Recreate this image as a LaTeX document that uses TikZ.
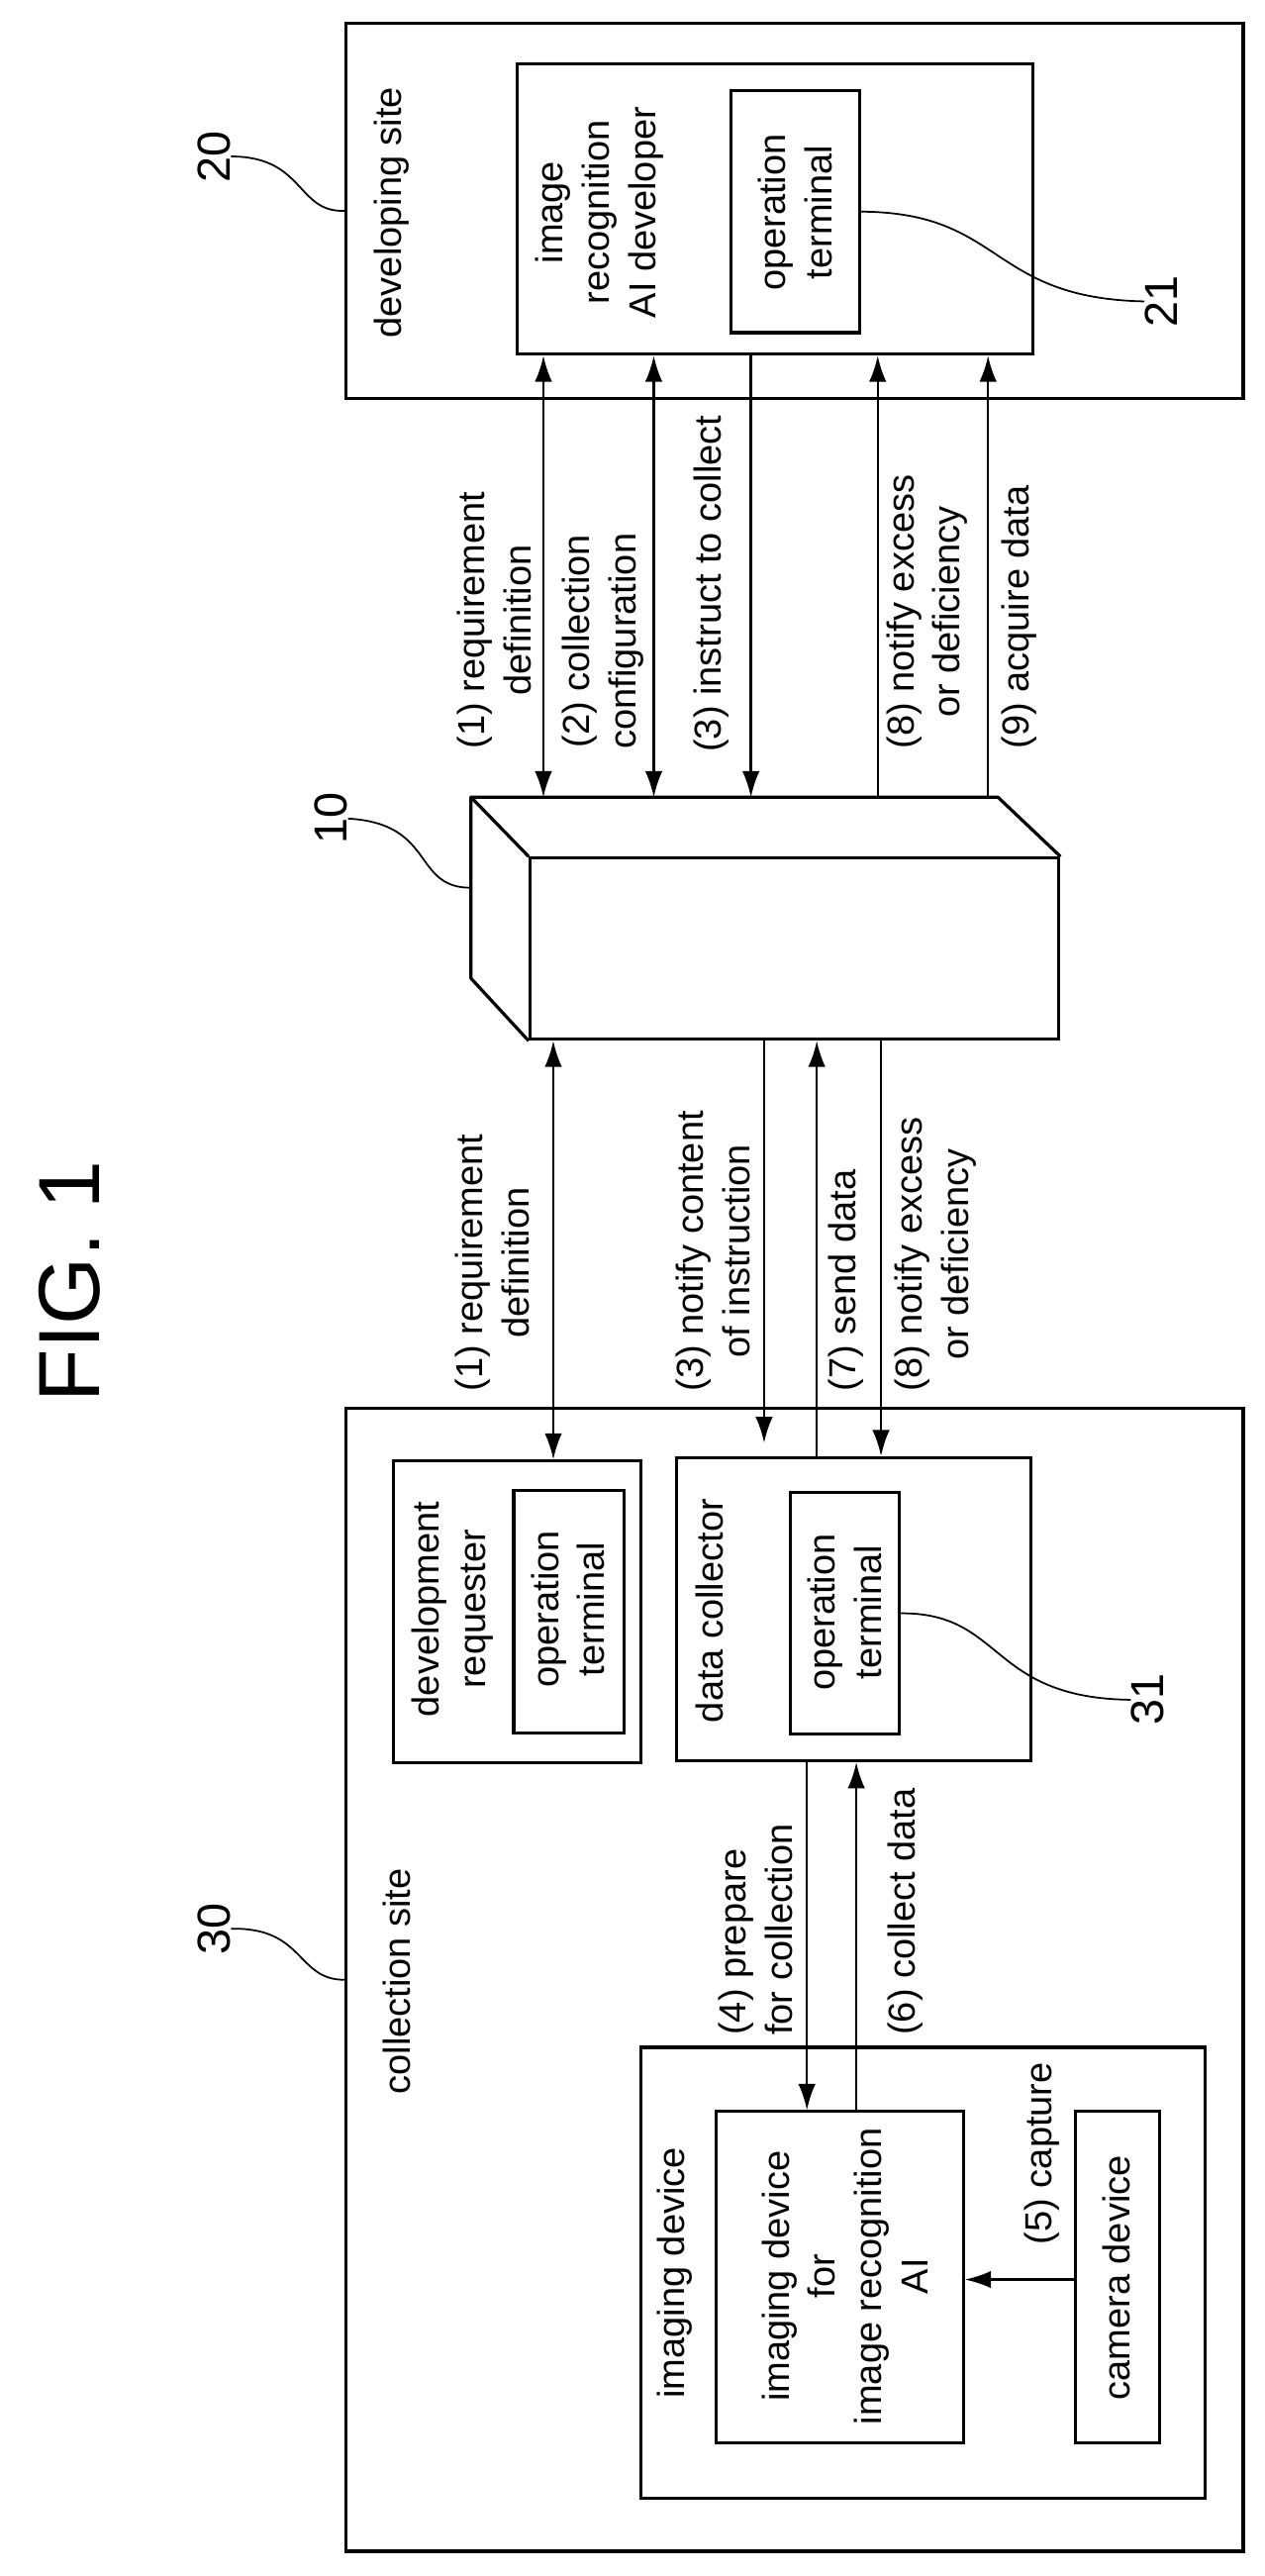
\documentclass[tikz,border=0pt]{standalone}
\usepackage{fontspec}
\setmainfont{Liberation Sans}
\usetikzlibrary{arrows.meta,fit}
\tikzset{
  box/.style={draw,line width=1.1pt,inner sep=0pt},
  txt/.style={rotate=90,font=\fontsize{13}{16}\selectfont,align=center,inner sep=0pt},
  lead/.style={line width=0.6pt},
  one/.style={line width=0.8pt,-{Latex[length=9pt,width=6pt]}},
  two/.style={line width=0.8pt,{Latex[length=9pt,width=6pt]}-{Latex[length=9pt,width=6pt]}}
}
\begin{document}
\begin{tikzpicture}[x=0.02cm,y=-0.02cm]
  \useasboundingbox (0,0) rectangle (768,1564);
  % developing site
  \node[box,fit={(210,14) (755,242)}] (devsite) {};
  \node[box,fit={(314,39) (627,215)}] (dev) {};
  \node[box,fit={(444,55) (522,202)}] (term21) {};
  \node[txt,anchor=center] (tdevsite) at (238,129) {developing site};
  \node[txt] (tdev) at (364,129) {image\\recognition\\AI developer};
  \node[txt] (tterm21) at (483,129) {operation\\terminal};
  % server
  \node[box,fit={(322,521) (643,631)}] (srv) {};
  \coordinate (srvbl) at (286,484);
  \coordinate (srvbr) at (606,484);
  \coordinate (srvlb) at (286,594);
  \draw[line width=1.1pt,line join=round] (srv.north west) -- (srvbl) -- (srvbr) -- (srv.north east);
  \draw[line width=1.1pt,line join=round] (srvbl) -- (srvlb) -- (srv.south west);
  % collection site
  \node[box,fit={(210,855) (755,1549)}] (colsite) {};
  \node[box,fit={(239,887) (389,1070)}] (req) {};
  \node[box,fit={(312,905) (379,1052)}] (termreq) {};
  \node[box,fit={(411,885) (626,1069)}] (coll) {};
  \node[box,fit={(480,906) (546,1053)}] (term31) {};
  \node[box,fit={(389,1243) (732,1517)}] (imgdev) {};
  \node[box,fit={(435,1282) (585,1483)}] (ira) {};
  \node[box,fit={(653,1282) (704,1483)}] (cam) {};
  \node[txt] (tcolsite) at (241,1203) {collection site};
  \node[txt] (treq) at (275,977) {development\\requester};
  \node[txt] (ttermreq) at (345,977) {operation\\terminal};
  \node[txt] (tcoll) at (431,978) {data collector};
  \node[txt] (tterm31) at (513,979) {operation\\terminal};
  \node[txt] (timgdev) at (410,1380) {imaging device};
  \node[txt] (tira) at (513,1382) {imaging device\\for\\image recognition\\AI};
  \node[txt] (tcam) at (678,1383) {camera device};
  % connectors top
  \draw[two] (dev.south -| 330,0) -- (srvbl -| 330,0);
  \draw[two] (dev.south -| 397,0) -- (srvbl -| 397,0);
  \draw[one] (dev.south -| 456,0) -- (srvbl -| 456,0);
  \draw[one] (srvbl -| 533,0) -- (dev.south -| 533,0);
  \draw[one] (srvbl -| 600,0) -- (dev.south -| 600,0);
  \node[txt,anchor=west] (l1a) at (300,455) {(1) requirement\\definition};
  \node[txt,anchor=west] (l2a) at (366,455) {(2) collection\\configuration};
  \node[txt,anchor=west] (l3a) at (432,457) {(3) instruct to collect};
  \node[txt,anchor=west] (l8a) at (563,455) {(8) notify excess\\or deficiency};
  \node[txt,anchor=west] (l9a) at (619,455) {(9) acquire data};
  % connectors middle
  \coordinate (c3) at (464,876);
  \draw[two] (srv.south -| 336,0) -- (req.north -| 336,0);
  \draw[one] (srv.south -| c3) -- (c3);
  \draw[one] (coll.north -| 496,0) -- (srv.south -| 496,0);
  \draw[one] (srv.south -| 535,0) -- (coll.north -| 535,0);
  \node[txt,anchor=west] (l1b) at (299,845) {(1) requirement\\definition};
  \node[txt,anchor=west] (l3b) at (433,845) {(3) notify content\\of instruction};
  \node[txt,anchor=west] (l7b) at (514,845) {(7) send data};
  \node[txt,anchor=west] (l8b) at (568,845) {(8) notify excess\\or deficiency};
  % connectors bottom
  \draw[one] (coll.south -| 490,0) -- (ira.north -| 490,0);
  \draw[one] (ira.north -| 520,0) -- (coll.south -| 520,0);
  \draw[one] (cam.west |- 0,1384) -- (ira.east |- 0,1384);
  \node[txt,anchor=west,align=left] (l4) at (459,1236) {(4) prepare\\for collection};
  \node[txt,anchor=west] (l6) at (550,1236) {(6) collect data};
  \node[txt,anchor=west] (l5) at (633,1363) {(5) capture};
  % reference numerals
  \node[txt,font=\fontsize{16}{18}\selectfont] (n20) at (130,95) {20};
  \node[txt,font=\fontsize{16}{18}\selectfont] (n21) at (705,183) {21};
  \node[txt,font=\fontsize{16}{18}\selectfont] (n10) at (201,497) {10};
  \node[txt,font=\fontsize{16}{18}\selectfont] (n30) at (130,1171) {30};
  \node[txt,font=\fontsize{16}{18}\selectfont] (n31) at (697,1032) {31};
  \node[txt,font=\fontsize{30}{34}\selectfont] (fig) at (42,778) {FIG. 1};
  \draw[lead] (n20.south) .. controls (185,95) and (180,129) .. (devsite.west);
  \draw[lead] (term21.east) .. controls (610,129) and (600,181) .. (n21.north);
  \draw[lead] (n10.south) .. controls (265,500) and (250,539) .. (srvbl |- 0,539);
  \draw[lead] (n30.south) .. controls (185,1170) and (180,1202) .. (colsite.west |- 0,1202);
  \draw[lead] (term31.east) .. controls (610,979) and (600,1031) .. (n31.north);
\end{tikzpicture}
\end{document}
